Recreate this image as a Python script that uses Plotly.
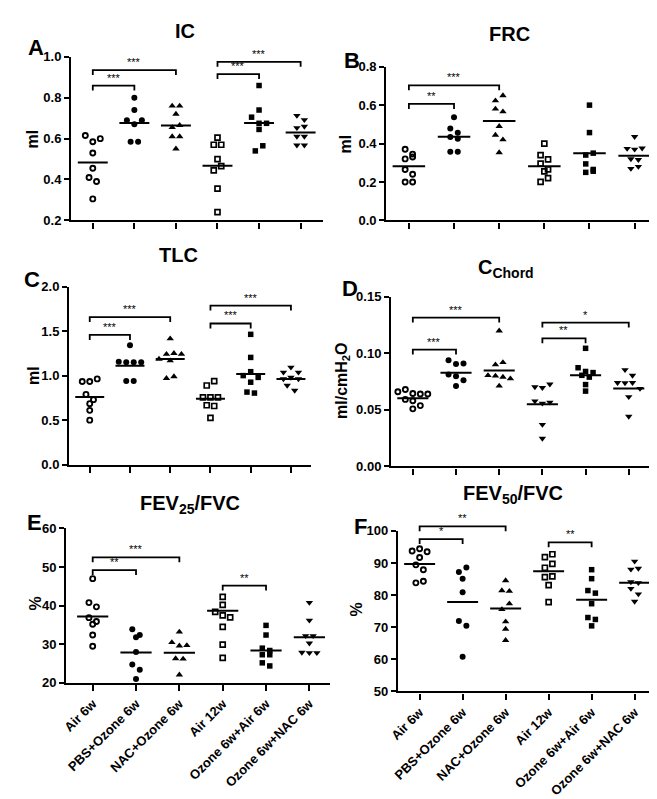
import plotly.graph_objects as go

W, H = 657, 799
groups = ["Air 6w", "PBS+Ozone 6w", "NAC+Ozone 6w", "Air 12w", "Ozone 6w+Air 6w", "Ozone 6w+NAC 6w"]

# ---------------- A: IC (ml) ----------------
ic_air6w = [0.615, 0.585, 0.60, 0.53, 0.455, 0.41, 0.39, 0.305]
ic_pbs = [0.80, 0.74, 0.69, 0.67, 0.69, 0.585, 0.585]
ic_nac = [0.76, 0.76, 0.72, 0.655, 0.665, 0.61, 0.61, 0.55]
ic_air12w = [0.605, 0.57, 0.57, 0.50, 0.445, 0.465, 0.355, 0.24]
ic_oair = [0.86, 0.74, 0.705, 0.675, 0.675, 0.645, 0.54, 0.565]
ic_onac = [0.713, 0.692, 0.653, 0.66, 0.611, 0.611, 0.568, 0.568]
ic_center = [0.483, 0.677, 0.664, 0.467, 0.676, 0.63]
ic_sig = [(0, 1, 0.859, "***"), (0, 2, 0.935, "***"), (3, 4, 0.916, "***"), (3, 5, 0.976, "***")]
ic_ticks = [0.2, 0.4, 0.6, 0.8, 1.0]

# ---------------- B: FRC (ml) ----------------
frc_air6w = [0.37, 0.345, 0.32, 0.33, 0.265, 0.24, 0.20, 0.20]
frc_pbs = [0.537, 0.478, 0.434, 0.425, 0.456, 0.357, 0.357]
frc_nac = [0.623, 0.65, 0.58, 0.566, 0.49, 0.444, 0.42, 0.353]
frc_air12w = [0.40, 0.34, 0.318, 0.295, 0.265, 0.255, 0.20, 0.22]
frc_oair = [0.60, 0.457, 0.34, 0.35, 0.294, 0.265, 0.25, 0.256]
frc_onac = [0.436, 0.374, 0.37, 0.376, 0.32, 0.316, 0.27, 0.28]
frc_center = [0.282, 0.435, 0.517, 0.282, 0.35, 0.337]
frc_sig = [(0, 1, 0.606, "**"), (0, 2, 0.703, "***")]
frc_ticks = [0.0, 0.2, 0.4, 0.6, 0.8]

# ---------------- C: TLC (ml) ----------------
tlc_air6w = [0.933, 0.933, 0.963, 0.789, 0.73, 0.685, 0.61, 0.50]
tlc_pbs = [1.34, 1.155, 1.15, 1.15, 1.15, 0.94, 0.94]
tlc_nac = [1.415, 1.185, 1.24, 1.25, 1.24, 1.167, 0.97, 0.99]
tlc_air12w = [0.889, 0.937, 0.755, 0.755, 0.755, 0.667, 0.659, 0.526]
tlc_oair = [1.463, 1.204, 1.0, 1.044, 0.98, 0.926, 0.815, 0.804]
tlc_onac = [1.037, 1.093, 1.037, 0.963, 0.98, 0.963, 0.889, 0.833]
tlc_center = [0.759, 1.111, 1.185, 0.741, 1.019, 0.963]
tlc_sig = [(0, 1, 1.456, "***"), (0, 2, 1.656, "***"), (3, 4, 1.585, "***"), (3, 5, 1.785, "***")]
tlc_ticks = [0.0, 0.5, 1.0, 1.5, 2.0]

# ---------------- D: C_Chord (ml/cmH2O) ----------------
cch_air6w = [0.066, 0.068, 0.0645, 0.064, 0.064, 0.0593, 0.0581, 0.0509, 0.0538]
cch_pbs = [0.094, 0.0907, 0.091, 0.0814, 0.0797, 0.0762, 0.0712]
cch_nac = [0.12, 0.09, 0.092, 0.0805, 0.08, 0.079, 0.0776, 0.0712]
cch_air12w = [0.0703, 0.0697, 0.0727, 0.0578, 0.0558, 0.0567, 0.037, 0.0247]
cch_oair = [0.1045, 0.0873, 0.084, 0.083, 0.0806, 0.079, 0.0724, 0.0666]
cch_onac = [0.0855, 0.0805, 0.0741, 0.0738, 0.0741, 0.0689, 0.0616, 0.0442]
cch_center = [0.0602, 0.0828, 0.0849, 0.0549, 0.0806, 0.0689]
cch_sig = [(0, 1, 0.1034, "***"), (0, 2, 0.1317, "***"), (3, 4, 0.1133, "**"), (3, 5, 0.1273, "*")]
cch_ticks = [0.0, 0.05, 0.10, 0.15]

# ---------------- E: FEV25/FVC (%) ----------------
fev25_air6w = [47.0, 40.8, 39.7, 36.9, 35.2, 35.9, 32.4, 29.5]
fev25_pbs = [33.9, 32.4, 31.8, 28.0, 24.8, 23.4, 21.0]
fev25_nac = [33.2, 30.5, 29.6, 29.7, 26.3, 26.2, 22.1]
fev25_air12w = [42.3, 40.2, 38.4, 37.5, 37.0, 34.5, 29.9, 26.5]
fev25_oair = [34.9, 32.4, 29.0, 28.4, 27.3, 27.3, 25.2, 24.4]
fev25_onac = [40.8, 36.2, 32.2, 32.2, 30.3, 27.9, 27.8, 27.8]
fev25_center = [37.2, 27.9, 27.8, 38.7, 28.4, 31.8]
fev25_sig = [(0, 1, 49.2, "**"), (0, 2, 52.5, "***"), (3, 4, 45.2, "**")]
fev25_ticks = [20, 30, 40, 50, 60]

# ---------------- F: FEV50/FVC (%) ----------------
fev50_air6w = [93.7, 94.4, 93.5, 91.7, 89.4, 87.9, 83.8, 84.3]
fev50_pbs = [87.2, 88.6, 85.1, 80.9, 71.9, 70.4, 60.8]
fev50_nac = [84.5, 81.4, 81.2, 75.5, 77.3, 71.7, 69.4, 65.9]
fev50_air12w = [91.8, 92.7, 88.5, 89.7, 85.6, 85.8, 83.1, 77.8]
fev50_oair = [87.9, 85.1, 81.4, 80.6, 77.3, 73.0, 72.4, 70.4]
fev50_onac = [90.5, 88.0, 88.3, 84.1, 83.8, 82.0, 80.3, 78.0]
fev50_center = [89.7, 77.8, 75.8, 87.4, 78.5, 83.8]
fev50_sig = [(0, 1, 97.4, "*"), (0, 2, 101.4, "**"), (3, 4, 96.4, "**")]
fev50_ticks = [50, 60, 70, 80, 90, 100]

# ---------------- styles / layout (pixels) ----------------
FONT = "Arial, Liberation Sans, sans-serif"
STYLE = [
    dict(symbol="circle-open", size=5, color="black", line=dict(width=1.9, color="black")),
    dict(symbol="circle", size=6, color="black"),
    dict(symbol="triangle-up", size=6.5, color="black"),
    dict(symbol="square-open", size=5, color="black", line=dict(width=1.7, color="black")),
    dict(symbol="square", size=5.5, color="black"),
    dict(symbol="triangle-down", size=6.5, color="black"),
]
STYLE_D_AIR12 = dict(symbol="triangle-down", size=6.5, color="black")

panels = [
    dict(letter="A", title="IC", ytitle="ml",
         data=[ic_air6w, ic_pbs, ic_nac, ic_air12w, ic_oair, ic_onac], center=ic_center, sig=ic_sig,
         ticks=ic_ticks, fmt="{:.1f}", yr=[0.2, 1.0], xr=[-0.52, 5.545], px=(54, 310), py=(42.7, 209.3),
         title_xy=(170, 16), letter_xy=(18, 33), ytitle_xy=(15, 126), xlabels=False),
    dict(letter="B", title="FRC", ytitle="ml",
         data=[frc_air6w, frc_pbs, frc_nac, frc_air12w, frc_oair, frc_onac], center=frc_center, sig=frc_sig,
         ticks=frc_ticks, fmt="{:.1f}", yr=[0.0, 0.8], xr=[-0.50, 5.52], px=(374, 650), py=(52.7, 209.3),
         title_xy=(499, 19), letter_xy=(339, 46), ytitle_xy=(333, 131), xlabels=False),
    dict(letter="C", title="TLC", ytitle="ml",
         data=[tlc_air6w, tlc_pbs, tlc_nac, tlc_air12w, tlc_oair, tlc_onac], center=tlc_center, sig=tlc_sig,
         ticks=tlc_ticks, fmt="{:.1f}", yr=[0.0, 2.0], xr=[-0.51, 5.51], px=(52, 298), py=(276.7, 458.3),
         title_xy=(163, 245), letter_xy=(14, 270), ytitle_xy=(15, 367), xlabels=False),
    dict(letter="D", title="C<sub>Chord</sub>", ytitle="ml/cmH<sub>2</sub>O",
         data=[cch_air6w, cch_pbs, cch_nac, cch_air12w, cch_oair, cch_onac], center=cch_center, sig=cch_sig,
         ticks=cch_ticks, fmt="{:.2f}", yr=[0.0, 0.15], xr=[-0.50, 5.52], px=(379, 643), py=(287.3, 460),
         title_xy=(496, 258), letter_xy=(337, 279), ytitle_xy=(330, 373), xlabels=False),
    dict(letter="E", title="FEV<sub>25</sub>/FVC", ytitle="%",
         data=[fev25_air6w, fev25_pbs, fev25_nac, fev25_air12w, fev25_oair, fev25_onac], center=fev25_center,
         sig=fev25_sig, ticks=fev25_ticks, fmt="{:d}", yr=[20, 60], xr=[-0.61, 5.48], px=(49, 317),
         py=(523.3, 680.7), title_xy=(175, 499), letter_xy=(17, 517), ytitle_xy=(18, 600), xlabels=True),
    dict(letter="F", title="FEV<sub>50</sub>/FVC", ytitle="%",
         data=[fev50_air6w, fev50_pbs, fev50_nac, fev50_air12w, fev50_oair, fev50_onac], center=fev50_center,
         sig=fev50_sig, ticks=fev50_ticks, fmt="{:d}", yr=[50, 100], xr=[-0.50, 5.50], px=(386, 648),
         py=(525.7, 689.3), title_xy=(503, 489), letter_xy=(348, 521), ytitle_xy=(344, 606), xlabels=True),
]

D_PX = 7.6      # horizontal spacing between neighbouring dots (px)
ROW_PX = 6.5    # dots closer than this vertically share a row (px)
HALF = 0.36     # half width of the centre line (category units)


def swarm(vals, px_per_unit, px_per_cat):
    order = sorted(range(len(vals)), key=lambda i: -vals[i])
    rows = []
    for i in order:
        if rows and (vals[rows[-1][0]] - vals[i]) * px_per_unit < ROW_PX:
            rows[-1].append(i)
        else:
            rows.append([i])
    off = [0.0] * len(vals)
    for row in rows:
        row = sorted(row)
        k = len(row)
        for j, i in enumerate(row):
            off[i] = (j - (k - 1) / 2) * D_PX / px_per_cat
    return off


fig = go.Figure()
layout = dict(width=W, height=H, autosize=False, margin=dict(l=0, r=0, t=0, b=0),
              paper_bgcolor="white", plot_bgcolor="white", showlegend=False,
              font=dict(family=FONT, color="black"))
shapes, annotations = [], []

for n, p in enumerate(panels, start=1):
    sfx = "" if n == 1 else str(n)
    xa, ya = "x" + sfx, "y" + sfx
    x0p, x1p = p["px"]
    y0p, y1p = p["py"]
    px_per_unit = (y1p - y0p) / (p["yr"][1] - p["yr"][0])
    px_per_cat = (x1p - x0p) / (p["xr"][1] - p["xr"][0])

    for g, vals in enumerate(p["data"]):
        off = swarm(vals, px_per_unit, px_per_cat)
        st = STYLE[g]
        if p["letter"] == "D" and g == 3:
            st = STYLE_D_AIR12
        fig.add_trace(go.Scatter(x=[g + o for o in off], y=vals, mode="markers", marker=st,
                                 xaxis=xa, yaxis=ya, cliponaxis=False, hoverinfo="y"))
    lx, ly = [], []
    for g, c in enumerate(p["center"]):
        lx += [g - HALF, g + HALF, None]
        ly += [c, c, None]
    fig.add_trace(go.Scatter(x=lx, y=ly, mode="lines", line=dict(color="black", width=2),
                             xaxis=xa, yaxis=ya, hoverinfo="skip"))

    axis_common = dict(showline=True, linewidth=2.4, linecolor="black", ticks="outside",
                       tickwidth=2, tickcolor="black", showgrid=False, zeroline=False,
                       tickfont=dict(family=FONT, size=13, color="black"))
    xdict = dict(axis_common, domain=[x0p / W, x1p / W], anchor=ya, range=p["xr"],
                 tickmode="array", tickvals=list(range(6)), tickangle=-45, ticklen=6)
    if p["xlabels"]:
        xdict["ticktext"] = ["<b>" + g + "</b>" for g in groups]
        xdict["showticklabels"] = True
    else:
        xdict["showticklabels"] = False
    layout["xaxis" + sfx] = xdict
    layout["yaxis" + sfx] = dict(axis_common, domain=[1 - y1p / H, 1 - y0p / H], anchor=xa,
                                 range=p["yr"], tickmode="array", tickvals=p["ticks"],
                                 ticktext=["<b>" + p["fmt"].format(t) + "</b>" for t in p["ticks"]],
                                 ticklen=5)

    # significance brackets
    span = p["yr"][1] - p["yr"][0]
    drop = 5.0 / (y1p - y0p)
    for a, b, v, txt in p["sig"]:
        yd = (v - p["yr"][0]) / span
        shapes.append(dict(type="path", xref=xa, yref=ya + " domain",
                           path=f"M {a},{yd - drop} L {a},{yd} L {b},{yd} L {b},{yd - drop}",
                           line=dict(color="black", width=1.8)))
        annotations.append(dict(x=(a + b) / 2, y=yd, xref=xa, yref=ya + " domain", text=txt,
                                showarrow=False, yanchor="bottom", yshift=0,
                                font=dict(family=FONT, size=11, color="black")))

    # title, panel letter, y-axis title
    tx, ty = p["title_xy"]
    annotations.append(dict(x=tx / W, y=1 - ty / H, xref="paper", yref="paper", text="<b>" + p["title"] + "</b>",
                            showarrow=False, xanchor="center", yanchor="middle",
                            font=dict(family=FONT, size=20, color="black")))
    lx_, ly_ = p["letter_xy"]
    annotations.append(dict(x=lx_ / W, y=1 - ly_ / H, xref="paper", yref="paper", text="<b>" + p["letter"] + "</b>",
                            showarrow=False, xanchor="center", yanchor="middle",
                            font=dict(family=FONT, size=22, color="black")))
    yx, yy = p["ytitle_xy"]
    annotations.append(dict(x=yx / W, y=1 - yy / H, xref="paper", yref="paper", text="<b>" + p["ytitle"] + "</b>",
                            showarrow=False, xanchor="center", yanchor="middle", textangle=-90,
                            font=dict(family=FONT, size=16, color="black")))

layout["shapes"] = shapes
layout["annotations"] = annotations
fig.update_layout(**layout)
fig.write_html("out.html")
